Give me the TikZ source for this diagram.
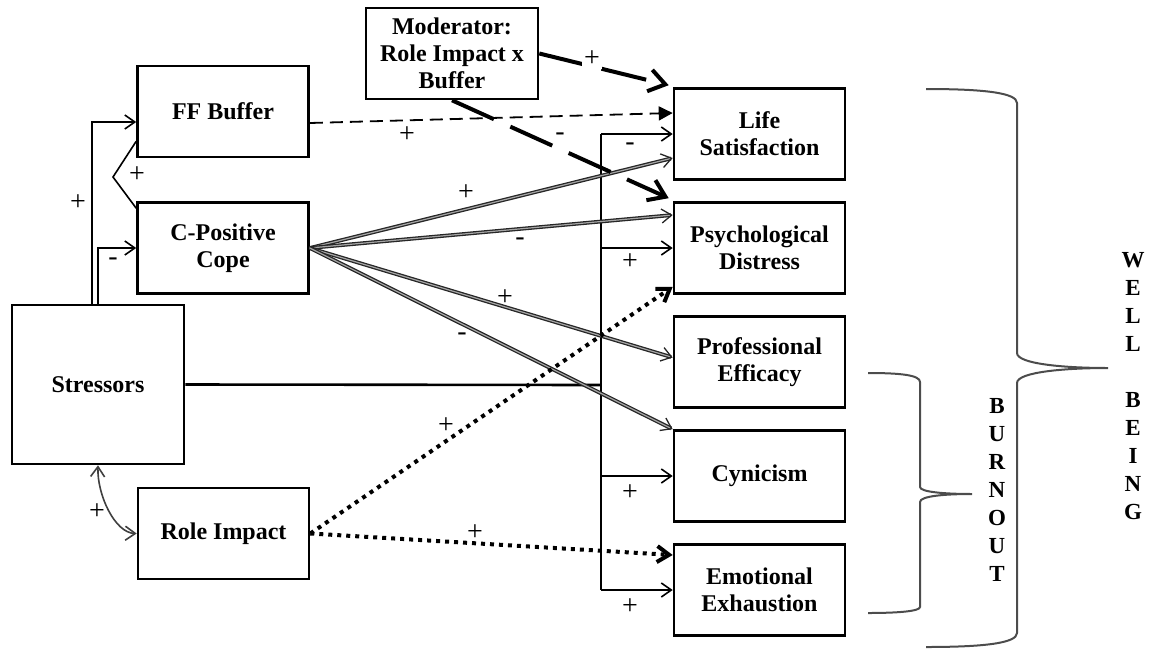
\documentclass[tikz,border=0pt]{standalone}
\usepackage{fontspec}
\setmainfont{Liberation Serif}
\usepackage{tikz}
\usetikzlibrary{arrows.meta,calc,positioning}

\begin{document}
\begin{tikzpicture}[x=0.5pt,y=-0.5pt,
    box/.style={draw, line width=1.3pt, minimum width=85.5pt, minimum height=45.5pt,
        align=center, inner sep=0pt, font=\fontsize{12pt}{13.5pt}\selectfont\bfseries},
    link/.style={line width=0.8pt, -{Straight Barb[length=5pt,width=7pt]}},
    twoway/.style={draw=black!75, line width=0.8pt,
        {Straight Barb[length=5pt,width=7pt]}-{Straight Barb[length=5pt,width=7pt]}},
    coping/.style={draw=gray!30!black, double=gray!70, line width=0.65pt, double distance=0.6pt,
        -{Straight Barb[length=5pt,width=7pt]}},
    buffer/.style={line width=0.9pt, dash pattern=on 6.5pt off 3.5pt,
        -{Triangle[length=7pt,width=7pt]}},
    moderate/.style={line width=2pt, dash pattern=on 23pt off 9pt,
        -{Straight Barb[length=8pt,width=11pt]}},
    impact/.style={line width=2pt, dash pattern=on 2pt off 2.5pt,
        -{Straight Barb[length=6pt,width=8pt]}},
    sign/.style={inner sep=1pt, font=\fontsize{14pt}{14pt}\selectfont},
    brace/.style={draw=gray!60!black, line width=1pt},
    letters/.style={align=center, inner sep=0pt, font=\fontsize{11.5pt}{14pt}\selectfont\bfseries}
]
    \useasboundingbox (0,0) rectangle (1151,649);

    % Predictors
    \node [box] (ffbuf) at (223,111.5) {FF Buffer};
    \node [box] (cpos) at (223,248) {C-Positive\\Cope};
    \node [box, minimum width=86pt, minimum height=79.5pt] (stress) at (98,384.5) {Stressors};
    \node [box] (role) at (223.5,533.5) {Role Impact};
    \node [box, minimum width=86pt] (moder) at (452,53.5) {Moderator:\\Role Impact x\\Buffer};

    % Outcomes
    \node [box] (life) at (759.5,134) {Life\\Satisfaction};
    \node [box] (psych) at (759.5,248) {Psychological\\Distress};
    \node [box] (prof) at (759.5,362) {Professional\\Efficacy};
    \node [box] (cyn) at (759.5,476) {Cynicism};
    \node [box] (emot) at (759.5,590) {Emotional\\Exhaustion};

    % Stressors to buffer and coping
    \draw [link] ([xshift=-3pt]stress.north) |- ([yshift=-5.25pt]ffbuf.west);
    \draw [link] (stress.north) |- (cpos.west);
    \node [sign] at (78,203) {+};
    \node [sign] at (113,262) {-};

    \coordinate (corr) at (113,177);
    \draw [line width=0.8pt] ([yshift=8.5pt]ffbuf.south west) -- (corr) -- ([yshift=-3.5pt]cpos.north west);
    \node [sign] at (137,175) {+};

    \draw [twoway] (stress.south) .. controls (97,495) and (115,533) .. (role.west);
    \node [sign] at (97,512) {+};

    % Stressors to outcomes
    \coordinate (trunk) at (601,385);
    \draw [line width=1.3pt] (stress.east) -- (trunk);
    \draw [line width=1pt] (trunk |- life.west) -- (trunk |- emot.west);
    \foreach \n in {life,psych,cyn,emot}
        \draw [link] (trunk |- \n.west) -- (\n.west);
    \node [sign] at (630,147) {-};
    \node [sign] at (630,262) {+};
    \node [sign] at (630,493) {+};
    \node [sign] at (630,607) {+};

    % Coping
    \draw [coping] (cpos.east) -- ([yshift=-12pt]life.west);
    \draw [coping] (cpos.east) -- ([yshift=16.5pt]psych.west);
    \draw [coping] (cpos.east) -- ([yshift=2.25pt]prof.west);
    \draw [coping] (cpos.east) -- (cyn.north west);
    \node [sign] at (466,193) {+};
    \node [sign] at (520,242) {-};
    \node [sign] at (505,298) {+};
    \node [sign] at (462,337) {-};

    % Buffer and moderator
    \draw [buffer] ([yshift=-5.75pt]ffbuf.east) -- ([yshift=10.5pt]life.west);
    \node [sign] at (407,135) {+};
    \draw [moderate] (moder.east) -- ([xshift=-2pt,yshift=1pt]life.north west);
    \draw [moderate] (moder.south) -- ([xshift=-2pt,yshift=1.5pt]psych.north west);
    \node [sign, fill=white] at (592,59) {+};
    \node [sign] at (560,137) {-};

    % Role impact
    \draw [impact] (role.east) -- ([yshift=4pt]psych.south west);
    \draw [impact] (role.east) -- ([yshift=17.5pt]emot.west);
    \node [sign] at (446,426) {+};
    \node [sign] at (475,533) {+};

    % Braces
    \draw [brace] (926,89) .. controls (985,89) and (1017,93) .. (1017,103) -- (1017,353)
        .. controls (1017,364) and (1065,368) .. (1108,368)
        .. controls (1065,368) and (1017,372) .. (1017,383) -- (1017,633)
        .. controls (1017,643) and (985,647) .. (926,647);
    \draw [brace] (868,373) .. controls (900,373) and (920,375) .. (920,382) -- (920,487)
        .. controls (920,492) and (945,494) .. (972,494)
        .. controls (945,494) and (920,496) .. (920,502) -- (920,607)
        .. controls (920,611) and (900,613) .. (868,613);
    \node [letters] (burn) at (997,490) {B\\U\\R\\N\\O\\U\\T};
    \node [letters] (well) at (1133,386) {W\\E\\L\\L\\~\\B\\E\\I\\N\\G};
\end{tikzpicture}
\end{document}
